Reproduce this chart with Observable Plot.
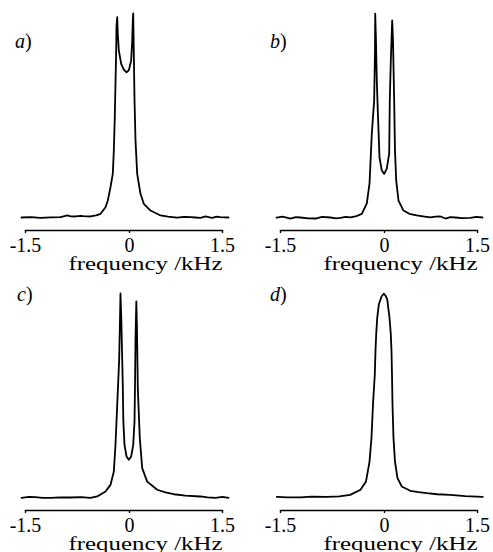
<!DOCTYPE html>
<html><head><meta charset="utf-8">
<script src="https://cdn.jsdelivr.net/npm/d3@7"></script>
<script src="https://cdn.jsdelivr.net/npm/@observablehq/plot@0.6"></script>
<style>
html,body{margin:0;padding:0;background:#fff;}
#wrap{position:relative;width:493px;height:552px;overflow:hidden;background:#fff;}
.panel{position:absolute;}
.tag{position:absolute;font-family:"Liberation Serif",serif;font-size:20px;line-height:20px;color:#000;white-space:nowrap;}
</style></head><body><div id="wrap"></div>
<script>
// tick values / labels
const tickValues = [-1.5, 0, 1.5];
const tickLabels = ["-1.5", "0", "1.5"];
const axisLabel = "frequency /kHz";
const tagLetters = ["a", "b", "c", "d"];

// panel a
const freqA = [-1.558,-1.42,-1.284,-1.14,-0.995,-0.894,-0.85,-0.779,-0.70,-0.664,-0.563,-0.48,-0.418,-0.346,-0.313,-0.274,-0.241,-0.226,-0.212,-0.202,-0.192,-0.188,-0.177,-0.169,-0.154,-0.120,-0.082,-0.043,-0.010,0.027,0.044,0.053,0.060,0.069,0.081,0.097,0.124,0.177,0.231,0.339,0.5,0.62,0.769,0.88,0.984,1.06,1.145,1.226,1.29,1.339,1.40,1.468,1.597];
const intA = [0,0.002,-0.002,0.001,0.002,0.01,0.006,0.005,0.008,0.007,0.005,0.01,0.018,0.050,0.083,0.149,0.214,0.328,0.492,0.657,0.819,0.933,0.982,0.902,0.819,0.753,0.725,0.712,0.721,0.770,0.868,0.966,1.0,0.819,0.574,0.377,0.214,0.116,0.067,0.034,0.010,0.004,-0.001,0.003,0.002,0.0,-0.002,0.005,0.001,-0.002,0.004,0.002,0];

// panel b
const freqB = [-1.558,-1.47,-1.356,-1.28,-1.212,-1.10,-0.995,-0.90,-0.779,-0.70,-0.635,-0.56,-0.495,-0.418,-0.327,-0.255,-0.216,-0.183,-0.149,-0.137,-0.134,-0.123,-0.111,-0.097,-0.072,-0.039,-0.004,0.037,0.076,0.085,0.102,0.124,0.137,0.156,0.169,0.189,0.226,0.306,0.40,0.521,0.62,0.737,0.82,0.903,0.984,1.06,1.145,1.25,1.387,1.48,1.581];
const intB = [-0.001,0.004,-0.005,0.002,0,-0.004,-0.005,0.003,0,-0.004,-0.002,0.003,0.001,0.005,0.018,0.069,0.167,0.412,0.574,0.819,0.999,0.868,0.672,0.525,0.294,0.230,0.214,0.240,0.314,0.574,0.770,0.966,0.868,0.574,0.328,0.181,0.083,0.034,0.018,0.010,0.006,0.001,0.004,0.005,-0.005,0.002,0,-0.003,-0.002,0.003,0];

// panel c
const freqC = [-1.558,-1.45,-1.356,-1.25,-1.139,-1.0,-0.851,-0.70,-0.563,-0.466,-0.346,-0.274,-0.226,-0.202,-0.177,-0.149,-0.137,-0.130,-0.118,-0.105,-0.097,-0.089,-0.072,-0.043,-0.010,0.027,0.060,0.081,0.089,0.097,0.110,0.121,0.134,0.166,0.205,0.285,0.447,0.58,0.715,0.90,1.145,1.26,1.387,1.50,1.597];
const intC = [-0.002,0.003,0.002,-0.002,-0.002,0.001,0,0.002,-0.002,0.005,0.029,0.062,0.127,0.260,0.454,0.676,0.873,1.0,0.873,0.676,0.554,0.373,0.258,0.201,0.185,0.201,0.258,0.373,0.554,0.775,0.961,0.824,0.536,0.291,0.144,0.078,0.038,0.025,0.016,0.009,0.005,0.001,-0.002,0.003,-0.002];

// panel d
const freqD = [-1.553,-1.40,-1.212,-1.05,-0.832,-0.65,-0.495,-0.346,-0.267,-0.216,-0.188,-0.166,-0.140,-0.130,-0.120,-0.105,-0.082,-0.043,-0.010,0.016,0.044,0.081,0.102,0.113,0.121,0.129,0.145,0.169,0.210,0.279,0.415,0.55,0.683,0.85,1.060,1.30,1.585];
const intD = [0.003,0.001,0.001,0.004,0.003,0.006,0.013,0.038,0.078,0.176,0.291,0.456,0.603,0.717,0.799,0.881,0.946,0.985,0.999,0.990,0.971,0.881,0.799,0.717,0.603,0.456,0.291,0.176,0.095,0.054,0.033,0.026,0.021,0.016,0.013,0.007,0.003];

const wrap = document.getElementById("wrap");

function panel(freq, inten, tag, left, top, tagLeft, tagTop) {
  const data = freq.map((f, i) => ({f, v: inten[i]}));
  const svg = Plot.plot({
    width: 238, height: 276,
    marginLeft: 25, marginRight: 16, marginTop: 13, marginBottom: 46,
    style: {fontFamily: '"Liberation Serif", serif', fontSize: "20px", background: "transparent", overflow: "visible", color: "#000"},
    x: {type: "linear", domain: tickValues, range: [25, 129, 222]},
    y: {type: "linear", domain: [0, 1], range: [217, 13], axis: null},
    marks: [
      Plot.frame({anchor: "bottom", stroke: "#000", strokeWidth: 1.3}),
      Plot.axisX({ticks: tickValues, tickFormat: d => tickLabels[tickValues.indexOf(d)], tickSize: 3, tickPadding: 4, label: null, stroke: "#000", strokeWidth: 1.3, fill: "#000"}),
      Plot.line(data, {x: "f", y: "v", stroke: "#000", strokeWidth: 1.8}),
      Plot.text([axisLabel], {frameAnchor: "bottom", lineAnchor: "bottom", dx: 21.5, dy: 39, fill: "#000", fontSize: 19, className: "xlab"})
    ]
  });
  const div = document.createElement("div");
  div.className = "panel";
  div.style.left = left + "px";
  div.style.top = top + "px";
  div.appendChild(svg);
  wrap.appendChild(div);
  svg.querySelectorAll(".xlab text").forEach(t => {
    t.setAttribute("textLength", 154);
    t.setAttribute("lengthAdjust", "spacingAndGlyphs");
  });
  const tg = document.createElement("div");
  tg.className = "tag";
  tg.style.left = tagLeft + "px";
  tg.style.top = tagTop + "px";
  const it = document.createElement("i");
  it.textContent = tag;
  tg.appendChild(it);
  tg.appendChild(document.createTextNode(")"));
  wrap.appendChild(tg);
}

panel(freqA, intA, tagLetters[0], 0, 0, 15, 31);
panel(freqB, intB, tagLetters[1], 255, 0, 270, 31);
panel(freqC, intC, tagLetters[2], 0, 280, 17, 284);
panel(freqD, intD, tagLetters[3], 255, 280, 270, 284);
</script></body></html>
